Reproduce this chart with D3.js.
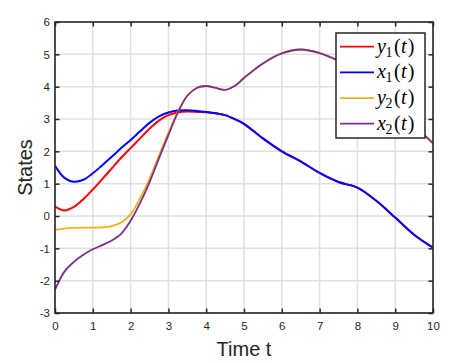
<!DOCTYPE html>
<html>
<head>
<meta charset="utf-8">
<script src="https://cdn.jsdelivr.net/npm/d3@7"></script>
<style>
  body { margin: 0; background: #fff; }
  svg { display: block; }
</style>
</head>
<body>
<svg></svg>
<script>
// sample times and the four state trajectories
const time = [0, 0.25, 0.5, 0.75, 1, 1.25, 1.5, 1.75, 2, 2.25, 2.5, 2.75, 3, 3.25, 3.5, 3.75, 4, 4.25, 4.5, 4.75, 5, 5.5, 6, 6.5, 7, 7.5, 8, 8.5, 9, 9.5, 10];

const y1 = [0.29, 0.17, 0.28, 0.52, 0.82, 1.14, 1.47, 1.8, 2.1, 2.4, 2.7, 2.95, 3.12, 3.2, 3.23, 3.22, 3.21, 3.18, 3.12, 3.0, 2.85, 2.4, 2.0, 1.69, 1.33, 1.05, 0.88, 0.47, -0.05, -0.58, -0.98];
const x1 = [1.55, 1.18, 1.06, 1.12, 1.32, 1.57, 1.83, 2.1, 2.35, 2.62, 2.88, 3.08, 3.2, 3.26, 3.27, 3.25, 3.22, 3.18, 3.12, 3.0, 2.85, 2.4, 2.0, 1.69, 1.33, 1.05, 0.88, 0.47, -0.05, -0.58, -0.98];
const y2 = [-0.43, -0.39, -0.37, -0.36, -0.36, -0.35, -0.31, -0.2, 0.05, 0.55, 1.15, 1.87, 2.58, 3.22, 3.72, 3.96, 4.02, 3.96, 3.9, 4.02, 4.27, 4.72, 5.03, 5.15, 5.04, 4.8, 4.45, 3.95, 3.4, 2.8, 2.25];
const x2 = [-2.28, -1.72, -1.42, -1.2, -1.03, -0.9, -0.76, -0.55, -0.15, 0.4, 1.04, 1.78, 2.5, 3.2, 3.72, 3.96, 4.02, 3.96, 3.9, 4.02, 4.27, 4.72, 5.03, 5.15, 5.04, 4.8, 4.45, 3.95, 3.4, 2.8, 2.25];

const xTicks = [0, 1, 2, 3, 4, 5, 6, 7, 8, 9, 10];
const yTicks = [-3, -2, -1, 0, 1, 2, 3, 4, 5, 6];

const series = [
  { name: "y", sub: "1", values: y1, color: "#ff0000", width: 2 },
  { name: "x", sub: "1", values: x1, color: "#0000ff", width: 2 },
  { name: "y", sub: "2", values: y2, color: "#edb120", width: 1.8 },
  { name: "x", sub: "2", values: x2, color: "#7e2f8e", width: 1.8 }
];

const width = 462, height = 363;
const plotLeft = 55, plotRight = 433, plotTop = 22, plotBottom = 313;

const svg = d3.select("svg")
    .attr("width", width)
    .attr("height", height)
    .style("font-family", "'Liberation Sans', Arial, sans-serif");

const x = d3.scaleLinear().domain([0, 10]).range([plotLeft, plotRight]);
const y = d3.scaleLinear().domain([-3, 6]).range([plotBottom, plotTop]);

// grid
svg.append("g")
    .selectAll("line")
    .data(xTicks)
    .join("line")
    .attr("x1", d => x(d)).attr("x2", d => x(d))
    .attr("y1", plotTop).attr("y2", plotBottom)
    .attr("stroke", "#e0e0e0")
    .attr("stroke-width", 1.5);

svg.append("g")
    .selectAll("line")
    .data(yTicks)
    .join("line")
    .attr("x1", plotLeft).attr("x2", plotRight)
    .attr("y1", d => y(d)).attr("y2", d => y(d))
    .attr("stroke", "#e0e0e0")
    .attr("stroke-width", 1.5);

// clip the curves to the axes box
svg.append("clipPath").attr("id", "plot-clip")
  .append("rect")
    .attr("x", plotLeft).attr("y", plotTop)
    .attr("width", plotRight - plotLeft).attr("height", plotBottom - plotTop);

const line = d3.line()
    .x((d, i) => x(time[i]))
    .y(d => y(d))
    .curve(d3.curveCatmullRom.alpha(0.5));

svg.append("g")
    .attr("clip-path", "url(#plot-clip)")
    .selectAll("path")
    .data(series)
    .join("path")
    .attr("d", d => line(d.values))
    .attr("fill", "none")
    .attr("stroke", d => d.color)
    .attr("stroke-width", d => d.width)
    .attr("stroke-linejoin", "round");

// axes, ticks pointing inward on all four sides
const axisColor = "#262626";
const tick = 4.5;
const plain = d => String(d);  // plain hyphen minus, like the original

const gx = svg.append("g")
    .attr("transform", `translate(0,${plotBottom})`)
    .call(d3.axisBottom(x).tickValues(xTicks).tickFormat(plain).tickSize(-tick).tickPadding(9));
const gy = svg.append("g")
    .attr("transform", `translate(${plotLeft},0)`)
    .call(d3.axisLeft(y).tickValues(yTicks).tickFormat(plain).tickSize(-tick).tickPadding(5));
const gt = svg.append("g")
    .attr("transform", `translate(0,${plotTop})`)
    .call(d3.axisTop(x).tickValues(xTicks).tickSize(-tick).tickFormat(""));
const gr = svg.append("g")
    .attr("transform", `translate(${plotRight},0)`)
    .call(d3.axisRight(y).tickValues(yTicks).tickSize(-tick).tickFormat(""));

[gx, gy, gt, gr].forEach(g => {
  g.select(".domain").remove();
  g.selectAll("line").attr("stroke", axisColor).attr("stroke-width", 1.5);
  g.selectAll("text")
      .attr("fill", axisColor)
      .style("font-family", "'Liberation Sans', Arial, sans-serif")
      .style("font-size", "11.5px");
});

svg.append("rect")
    .attr("x", plotLeft).attr("y", plotTop)
    .attr("width", plotRight - plotLeft).attr("height", plotBottom - plotTop)
    .attr("fill", "none")
    .attr("stroke", axisColor)
    .attr("stroke-width", 1.6);

// axis titles
svg.append("text")
    .attr("x", (plotLeft + plotRight) / 2)
    .attr("y", 356)
    .attr("text-anchor", "middle")
    .attr("fill", axisColor)
    .style("font-size", "20px")
    .text("Time t");

svg.append("text")
    .attr("transform", `translate(32,${(plotTop + plotBottom) / 2}) rotate(-90)`)
    .attr("text-anchor", "middle")
    .attr("fill", axisColor)
    .style("font-size", "20px")
    .text("States");

// legend
const legend = svg.append("g");
legend.append("rect")
    .attr("x", 336).attr("y", 33)
    .attr("width", 89).attr("height", 105)
    .attr("fill", "#fff")
    .attr("stroke", axisColor)
    .attr("stroke-width", 1.5);

const rowY = d3.scalePoint().domain(d3.range(series.length)).range([46.7, 123.7]);

const rows = legend.selectAll("g.row")
    .data(series)
    .join("g")
    .attr("class", "row")
    .attr("transform", (d, i) => `translate(0,${rowY(i)})`);

rows.append("line")
    .attr("x1", 340).attr("x2", 374)
    .attr("stroke", d => d.color)
    .attr("stroke-width", 1.8);

const label = rows.append("text")
    .attr("x", 377)
    .attr("y", 6)
    .attr("fill", "#000")
    .style("font-family", "'Liberation Serif', 'Times New Roman', serif")
    .style("font-size", "20px");

label.append("tspan").style("font-style", "italic").text(d => d.name);
label.append("tspan").attr("dy", 4).attr("dx", -0.5).style("font-size", "14px").text(d => d.sub);
label.append("tspan").attr("dy", -4).attr("dx", 1.5).text("(");
label.append("tspan").attr("dx", 0.5).style("font-style", "italic").text("t");
label.append("tspan").attr("dx", 1).text(")");
</script>
</body>
</html>
